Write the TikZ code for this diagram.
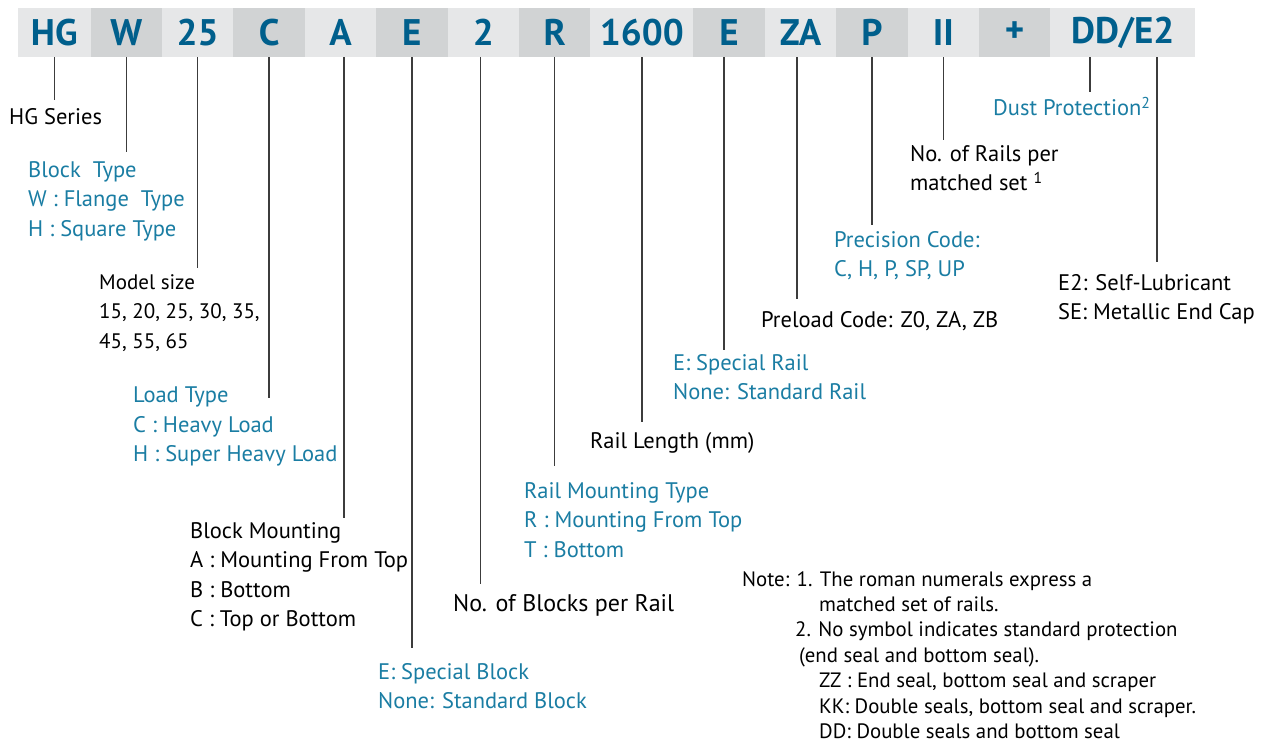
\documentclass[tikz,border=0pt]{standalone}
\usepackage{fontspec}
\setmainfont{PT Sans}
\usepackage{xcolor}
\definecolor{CodeBlue}{HTML}{005F8C}
\definecolor{LabelBlue}{HTML}{1A7DA3}
\definecolor{CellLight}{HTML}{E6E7E8}
\definecolor{CellDark}{HTML}{D1D3D4}
\definecolor{LeadGray}{HTML}{3C3C3C}

\begin{document}
\begin{tikzpicture}[x=1pt, y=-1pt,
	cell/.style={minimum height=49pt, minimum width=71.4pt, inner sep=0pt, text=CodeBlue, font=\fontsize{37}{37}\selectfont\bfseries},
	light/.style={cell, fill=CellLight},
	dark/.style={cell, fill=CellDark},
	txt/.style={anchor=north west, inner sep=0pt, align=left, font=\fontsize{22.5}{29.5}\selectfont},
	bluetxt/.style={txt, text=LabelBlue},
	notetxt/.style={txt, font=\fontsize{20.8}{25.4}\selectfont},
	lead/.style={LeadGray, line width=1.4pt}]
	\useasboundingbox (0,0) rectangle (1270,744);

	% code bar
	\node[light, minimum width=72.6pt] (hHG) at (54.3,32.5) {HG};
	\node[dark]  (hW)    at (126.3,32.5) {W};
	\node[light] (hSize) at (197.7,32.5) {25};
	\node[dark]  (hC)    at (269.1,32.5) {C};
	\node[light] (hA)    at (340.5,32.5) {A};
	\node[dark]  (hE)    at (411.9,32.5) {E};
	\node[light] (hTwo)  at (483.3,32.5) {2};
	\node[dark]  (hR)    at (554.7,32.5) {R};
	\node[light, minimum width=103pt] (hLen) at (641.9,32.5) {1600};
	\node[dark]  (hRE)   at (729.1,32.5) {E};
	\node[light] (hZA)   at (800.5,32.5) {ZA};
	\node[dark]  (hP)    at (871.9,32.5) {P};
	\node[light] (hII)   at (943.3,32.5) {II};
	\node[dark]  (hPlus) at (1014.7,32.5) {+};
	\node[light, minimum width=144.6pt] (hDust) at (1122.7,32.5) {DD/E2};

	% labels
	\node[txt] (lSeries) at (9,108) {HG Series};
	\node[bluetxt] (lBlock) at (28,161) {Block\ \ Type\\W : Flange\ \ Type\\H : Square Type};
	\node[txt, font=\fontsize{21}{29.5}\selectfont] (lSize) at (99,274) {Model size\\15, 20, 25, 30, 35,\\45, 55, 65};
	\node[bluetxt] (lLoad) at (133,387) {Load Type\\C : Heavy Load\\H : Super Heavy Load};
	\node[txt] (lMount) at (190,522) {Block Mounting\\A : Mounting From Top\\B : Bottom\\C : Top or Bottom};
	\node[bluetxt] (lSpecB) at (378,663) {E: Special Block\\None: Standard Block};
	\node[txt, font=\fontsize{24}{29}\selectfont] (lBlocks) at (453,594) {No. of Blocks per Rail};
	\node[bluetxt] (lRailM) at (524,482) {Rail Mounting Type\\R : Mounting From Top\\T : Bottom};
	\node[txt] (lLen) at (590,432) {Rail Length (mm)};
	\node[bluetxt] (lSpecR) at (673,354) {E: Special Rail\\None: Standard Rail};
	\node[txt] (lPre) at (761,311) {Preload Code: Z0, ZA, ZB};
	\node[bluetxt] (lPrec) at (834,231) {Precision Code:\\C, H, P, SP, UP};
	\node[txt] (lRails) at (910,145) {No. of Rails per\\matched set \textsuperscript{1}};
	\node[bluetxt] (lDust) at (993,97) {Dust Protection\textsuperscript{2}};
	\node[txt] (lLube) at (1058,274) {E2: Self-Lubricant\\SE: Metallic End Cap};

	% notes
	\node[notetxt] (nNote) at (742,571) {Note: 1. The roman numerals express a\\
		\hspace*{77pt}matched set of rails.\\
		\hspace*{53pt}2. No symbol indicates standard protection\\
		\hspace*{57pt}(end seal and bottom seal).\\
		\hspace*{77pt}ZZ : End seal, bottom seal and scraper\\
		\hspace*{77pt}KK: Double seals, bottom seal and scraper.\\
		\hspace*{77pt}DD: Double seals and bottom seal};

	% leaders
	\draw[lead, shorten >=8pt] (hHG.south) -- (hHG.south |- lSeries.north);
	\draw[lead, shorten >=9pt] (hW.south) -- (hW.south |- lBlock.north);
	\draw[lead, shorten >=6pt] (hSize.south) -- (hSize.south |- lSize.north);
	\draw[lead, shorten >=-11pt] (hC.south) -- (hC.south |- lLoad.north);
	\draw[lead, shorten >=4pt] ([xshift=3.5pt]hA.south) -- ([xshift=3.5pt]hA.south |- lMount.north);
	\draw[lead, shorten >=15pt] (hE.south) -- (hE.south |- lSpecB.north);
	\draw[lead, shorten >=10pt] ([xshift=-3pt]hTwo.south) -- ([xshift=-3pt]hTwo.south |- lBlocks.north);
	\draw[lead, shorten >=16pt] (hR.south) -- (hR.south |- lRailM.north);
	\draw[lead, shorten >=10pt] (hLen.south) -- (hLen.south |- lLen.north);
	\draw[lead, shorten >=4pt] ([xshift=-5pt]hRE.south) -- ([xshift=-5pt]hRE.south |- lSpecR.north);
	\draw[lead, shorten >=12pt] ([xshift=-3.5pt]hZA.south) -- ([xshift=-3.5pt]hZA.south |- lPre.north);
	\draw[lead, shorten >=6pt] (hP.south) -- (hP.south |- lPrec.north);
	\draw[lead, shorten >=5pt] (hII.south) -- (hII.south |- lRails.north);
	\draw[lead, shorten >=5pt] ([xshift=-32.7pt]hDust.south) -- ([xshift=-32.7pt]hDust.south |- lDust.north);
	\draw[lead, shorten >=12pt] ([xshift=34.3pt]hDust.south) -- ([xshift=34.3pt]hDust.south |- lLube.north);
\end{tikzpicture}
\end{document}
